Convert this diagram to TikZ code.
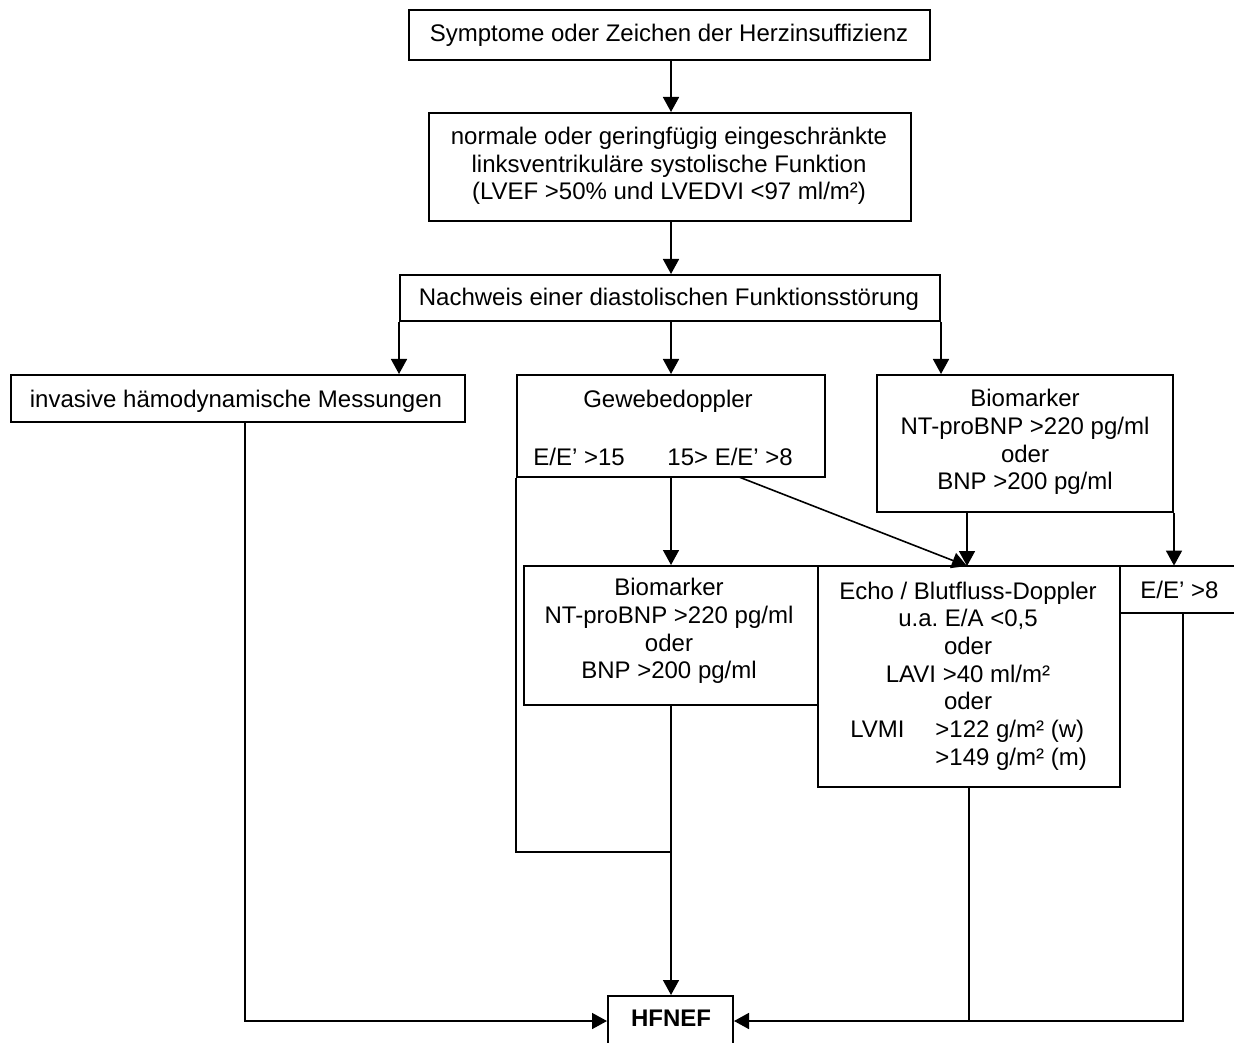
\documentclass[tikz,border=0pt]{standalone}
\usepackage{fontspec}
\setmainfont{Liberation Sans}
\usetikzlibrary{arrows.meta,fit,calc}
\begin{document}
\frenchspacing
\begin{tikzpicture}[x=0.5pt,y=-0.5pt,
  box/.style={draw=black,line width=1pt,inner sep=0pt},
  openbox/.style={inner sep=0pt},
  txt/.style={inner sep=0pt,align=center,font=\fontsize{12}{13.8}\selectfont},
  conn/.style={line width=0.8pt},
  arr/.style={line width=0.8pt,-{Triangle[length=7.5pt,width=8pt]}}]
\path[use as bounding box,clip] (0,0) rectangle (1234,1042);
\fill[white] (0,0) rectangle (1234,1042);
% boxes
\node[box,fit={(409,10)(930,60)}] (b1) {};
\node[box,fit={(429,113)(911,221)}] (b2) {};
\node[box,fit={(400,275)(940,321)}] (b3) {};
\node[box,fit={(11,375)(465,422)}] (b4) {};
\node[box,fit={(517,375)(825,477)}] (b5) {};
\node[box,fit={(877,375)(1173,512)}] (b6) {};
\node[box,fit={(524,566)(818,705)}] (b7) {};
\node[box,fit={(818,566)(1120,787)}] (b8) {};
\node[openbox,fit={(1120,566)(1240,613)}] (b9) {};
\draw[line width=1pt] (b9.north east) -- (b9.north west) -- (b9.south west) -- (b9.south east);
\node[box,fit={(608,996)(733,1046)}] (hf) {};
% texts
\node[txt] (t1) at (669,35) {Symptome oder Zeichen der Herzinsuffizienz};
\node[txt] (t2) at (669,166) {normale oder geringfügig eingeschränkte\\linksventrikuläre systolische Funktion\\(LVEF >50\% und LVEDVI <97 ml/m²)};
\node[txt] (t3) at (669,299) {Nachweis einer diastolischen Funktionsstörung};
\node[txt] (t4) at (236,401) {invasive hämodynamische Messungen};
\node[txt] (t5a) at (668,401) {Gewebedoppler};
\node[txt,anchor=base west] (t5b) at (533,465) {E/E’ >15};
\node[txt,anchor=base west] (t5c) at (667,465) {15> E/E’ >8};
\node[txt] (t6) at (1025,442) {Biomarker\\NT-proBNP >220 pg/ml\\oder\\BNP >200 pg/ml};
\node[txt] (t7) at (669,631) {Biomarker\\NT-proBNP >220 pg/ml\\oder\\BNP >200 pg/ml};
\node[txt] (t8) at (968,646) {Echo / Blutfluss-Doppler\\u.a. E/A <0,5\\oder\\LAVI >40 ml/m²\\oder};
\node[txt,anchor=base west] (t8b) at (850,737) {LVMI};
\node[txt,anchor=base west] (t8c) at (935,737) {>122 g/m² (w)};
\node[txt,anchor=base west] (t8d) at (935,765) {>149 g/m² (m)};
\node[txt,anchor=base west] (t9) at (1140,598) {E/E’ >8};
\node[txt,font=\fontsize{12}{13.8}\selectfont\bfseries] (t10) at (671,1018) {HFNEF};
% connectors
\coordinate (c5) at (671,477);
\coordinate (d1) at (739,477);
\coordinate (d2) at (967,566);
\coordinate (c6) at (967,512);
\coordinate (c4) at (245,422);
\coordinate (c9) at (1183,613);
\coordinate (j1) at (671,852);
\coordinate (hy) at (0,1021);
\draw[arr] (b1.south -| c5) -- (b2.north -| c5);
\draw[arr] (b2.south -| c5) -- (b3.north -| c5);
\draw[arr] (b3.south west) -- (b3.south west |- b4.north);
\draw[arr] (b3.south -| c5) -- (b5.north -| c5);
\draw[arr] (b3.south east) -- (b3.south east |- b6.north);
\draw[arr] (c5) -- (b7.north -| c5);
\draw[arr] (d1) -- (d2);
\draw[arr] (c6) -- (d2);
\draw[arr] (b6.south east) -- (b6.south east |- b9.north);
\draw[conn] (b5.south west) |- (j1);
\draw[arr] (b7.south -| c5) -- (hf.north -| c5);
\draw[arr] (c4) |- (hf.west |- hy);
\draw[conn] (b8.south) -- (b8.south |- hy);
\draw[arr] (c9) |- (hf.east |- hy);
\end{tikzpicture}
\end{document}
